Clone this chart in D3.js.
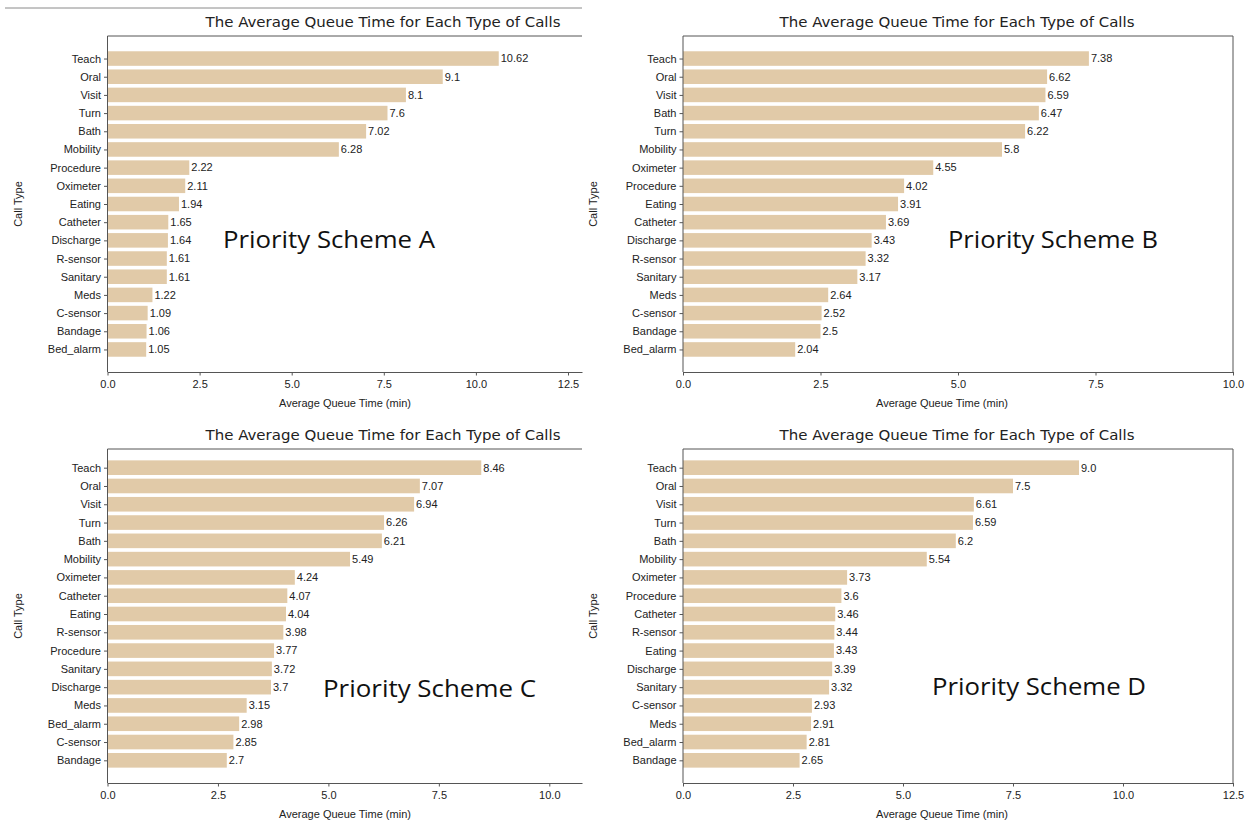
<!DOCTYPE html>
<html>
<head>
<meta charset="utf-8">
<script src="https://cdn.jsdelivr.net/npm/d3@7"></script>
<style>
  body { margin: 0; background: #fff; }
  text { fill: #222; }
</style>
</head>
<body>
<div id="chart"></div>
<script>
// canvas
const FRAME_WIDTH = 1253;
const FRAME_HEIGHT = 822;

// data, one pair of arrays per scheme
const catsA = ["Teach", "Oral", "Visit", "Turn", "Bath", "Mobility", "Procedure", "Oximeter", "Eating",
    "Catheter", "Discharge", "R-sensor", "Sanitary", "Meds", "C-sensor", "Bandage", "Bed_alarm"];
const valsA = [10.62, 9.1, 8.1, 7.6, 7.02, 6.28, 2.22, 2.11, 1.94, 1.65, 1.64, 1.61, 1.61, 1.22, 1.09, 1.06, 1.05];

const catsB = ["Teach", "Oral", "Visit", "Bath", "Turn", "Mobility", "Oximeter", "Procedure", "Eating",
    "Catheter", "Discharge", "R-sensor", "Sanitary", "Meds", "C-sensor", "Bandage", "Bed_alarm"];
const valsB = [7.38, 6.62, 6.59, 6.47, 6.22, 5.8, 4.55, 4.02, 3.91, 3.69, 3.43, 3.32, 3.17, 2.64, 2.52, 2.5, 2.04];

const catsC = ["Teach", "Oral", "Visit", "Turn", "Bath", "Mobility", "Oximeter", "Catheter", "Eating",
    "R-sensor", "Procedure", "Sanitary", "Discharge", "Meds", "Bed_alarm", "C-sensor", "Bandage"];
const valsC = [8.46, 7.07, 6.94, 6.26, 6.21, 5.49, 4.24, 4.07, 4.04, 3.98, 3.77, 3.72, 3.7, 3.15, 2.98, 2.85, 2.7];

const catsD = ["Teach", "Oral", "Visit", "Turn", "Bath", "Mobility", "Oximeter", "Procedure", "Catheter",
    "R-sensor", "Eating", "Discharge", "Sanitary", "C-sensor", "Meds", "Bed_alarm", "Bandage"];
const valsD = [9.0, 7.5, 6.61, 6.59, 6.2, 5.54, 3.73, 3.6, 3.46, 3.44, 3.43, 3.39, 3.32, 2.93, 2.91, 2.81, 2.65];

const xTicksA = [0, 2.5, 5, 7.5, 10, 12.5];
const xTicksB = [0, 2.5, 5, 7.5, 10];
const xTicksC = [0, 2.5, 5, 7.5, 10];
const xTicksD = [0, 2.5, 5, 7.5, 10, 12.5];

const TITLE = "The Average Queue Time for Each Type of Calls";
const X_LABEL = "Average Queue Time (min)";
const Y_LABEL = "Call Type";
const schemeNames = ["Priority Scheme A", "Priority Scheme B", "Priority Scheme C", "Priority Scheme D"];

const BAR_COLOR = "#e1caa8";
const AXIS_COLOR = "#555";
const TICK_FONT = "'Liberation Sans', Arial, sans-serif";

// panel layout (pixel placement only)
const PANELS = [
    { cats: catsA, vals: valsA, ticks: xTicksA, name: schemeNames[0],
      left: 107.5, right: 582, scaleTop: 36, top: 36, bottom: 372, xMax: 12.88, box: false,
      titleX: 383, titleY: 27, xlabX: 345, ylabX: 22, schemeX: 223, schemeY: 248, schemeW: 212 },
    { cats: catsB, vals: valsB, ticks: xTicksB, name: schemeNames[1],
      left: 683, right: 1233, scaleTop: 36, top: 36, bottom: 372, xMax: 10, box: true,
      titleX: 957, titleY: 27, xlabX: 942, ylabX: 597, schemeX: 948, schemeY: 248, schemeW: 210 },
    { cats: catsC, vals: valsC, ticks: xTicksC, name: schemeNames[2],
      left: 107.5, right: 582, scaleTop: 445, top: 449, bottom: 783, xMax: 10.74, box: false,
      titleX: 383, titleY: 440, xlabX: 345, ylabX: 22, schemeX: 323, schemeY: 697, schemeW: 213 },
    { cats: catsD, vals: valsD, ticks: xTicksD, name: schemeNames[3],
      left: 683, right: 1233, scaleTop: 445, top: 449, bottom: 783, xMax: 12.5, box: true,
      titleX: 957, titleY: 440, xlabX: 942, ylabX: 597, schemeX: 932, schemeY: 695, schemeW: 214 }
];

const SVG = d3.select("#chart")
    .append("svg")
    .attr("width", FRAME_WIDTH)
    .attr("height", FRAME_HEIGHT)
    .style("background", "#fff");

// thin separator line at the very top of the screenshot
SVG.append("line")
    .attr("x1", 5).attr("x2", 582)
    .attr("y1", 8).attr("y2", 8)
    .attr("stroke", "#8a8a8a").attr("stroke-width", 1);

function fmt(v) {
    return Number.isInteger(v) ? v.toFixed(1) : String(v);
}

// squeeze or stretch a text node to a measured width
function fitWidth(sel, w) {
    sel.attr("textLength", w).attr("lengthAdjust", "spacingAndGlyphs");
}

function drawPanel(p) {
    const g = SVG.append("g");
    const data = p.cats.map((c, i) => ({ cat: c, val: p.vals[i], idx: i }));

    const X_SCALE = d3.scaleLinear()
        .domain([0, p.xMax])
        .range([p.left, p.right]);

    const Y_SCALE = d3.scaleLinear()
        .domain([-1.24, p.cats.length - 1 + 1.24])
        .range([p.scaleTop, p.bottom]);

    const band = (Y_SCALE(1) - Y_SCALE(0)) * 0.8;

    // bars
    g.selectAll(".bar")
        .data(data)
        .enter()
        .append("rect")
        .attr("class", "bar")
        .attr("x", X_SCALE(0))
        .attr("y", (d) => Y_SCALE(d.idx) - band / 2)
        .attr("width", (d) => X_SCALE(d.val) - X_SCALE(0))
        .attr("height", band)
        .attr("fill", BAR_COLOR);

    // value labels
    g.selectAll(".val")
        .data(data)
        .enter()
        .append("text")
        .attr("class", "val")
        .attr("x", (d) => X_SCALE(d.val) + 2)
        .attr("y", (d) => Y_SCALE(d.idx))
        .attr("dy", "0.35em")
        .attr("font-family", TICK_FONT)
        .attr("font-size", "11px")
        .text((d) => fmt(d.val));

    // x axis
    const xAxis = g.append("g")
        .attr("transform", "translate(0," + p.bottom + ")")
        .call(d3.axisBottom(X_SCALE).tickValues(p.ticks).tickFormat(d3.format(".1f")).tickSize(3.5).tickSizeOuter(0))
        .attr("font-family", TICK_FONT)
        .attr("font-size", "11px");
    xAxis.select(".domain").attr("stroke", AXIS_COLOR);
    xAxis.selectAll(".tick line").attr("stroke", AXIS_COLOR);
    xAxis.selectAll(".tick text").attr("fill", "#222").attr("dy", "0.9em");

    // y axis
    const yAxis = g.append("g")
        .attr("transform", "translate(" + p.left + ",0)")
        .call(d3.axisLeft(Y_SCALE).tickValues(d3.range(p.cats.length)).tickFormat((i) => p.cats[i]).tickSize(3.5).tickSizeOuter(0))
        .attr("font-family", TICK_FONT)
        .attr("font-size", "11px");
    yAxis.select(".domain").remove();
    yAxis.selectAll(".tick line").attr("stroke", AXIS_COLOR);
    yAxis.selectAll(".tick text").attr("fill", "#222");

    // spines
    g.append("line")
        .attr("x1", p.left).attr("x2", p.left)
        .attr("y1", p.top).attr("y2", p.bottom)
        .attr("stroke", AXIS_COLOR);
    g.append("line")
        .attr("x1", p.left).attr("x2", p.right)
        .attr("y1", p.top).attr("y2", p.top)
        .attr("stroke", AXIS_COLOR);
    if (p.box) {
        g.append("line")
            .attr("x1", p.right).attr("x2", p.right)
            .attr("y1", p.top).attr("y2", p.bottom)
            .attr("stroke", AXIS_COLOR);
    }

    // title
    g.append("text")
        .attr("x", p.titleX)
        .attr("y", p.titleY)
        .attr("text-anchor", "middle")
        .attr("font-family", "'DejaVu Sans', sans-serif")
        .attr("font-size", "13.5px")
        .text(TITLE)
        .call(fitWidth, 355);

    // x label
    g.append("text")
        .attr("x", p.xlabX)
        .attr("y", p.bottom + 35)
        .attr("text-anchor", "middle")
        .attr("font-family", TICK_FONT)
        .attr("font-size", "11px")
        .text(X_LABEL);

    // y label
    g.append("text")
        .attr("transform", "translate(" + p.ylabX + "," + ((p.top + p.bottom) / 2) + ") rotate(-90)")
        .attr("text-anchor", "middle")
        .attr("font-family", TICK_FONT)
        .attr("font-size", "11px")
        .text(Y_LABEL);

    // scheme annotation
    g.append("text")
        .attr("x", p.schemeX)
        .attr("y", p.schemeY)
        .attr("font-family", "'Open Sans', sans-serif")
        .attr("font-size", "24px")
        .style("fill", "#111")
        .text(p.name)
        .call(fitWidth, p.schemeW);
}

PANELS.forEach(drawPanel);
</script>
</body>
</html>
